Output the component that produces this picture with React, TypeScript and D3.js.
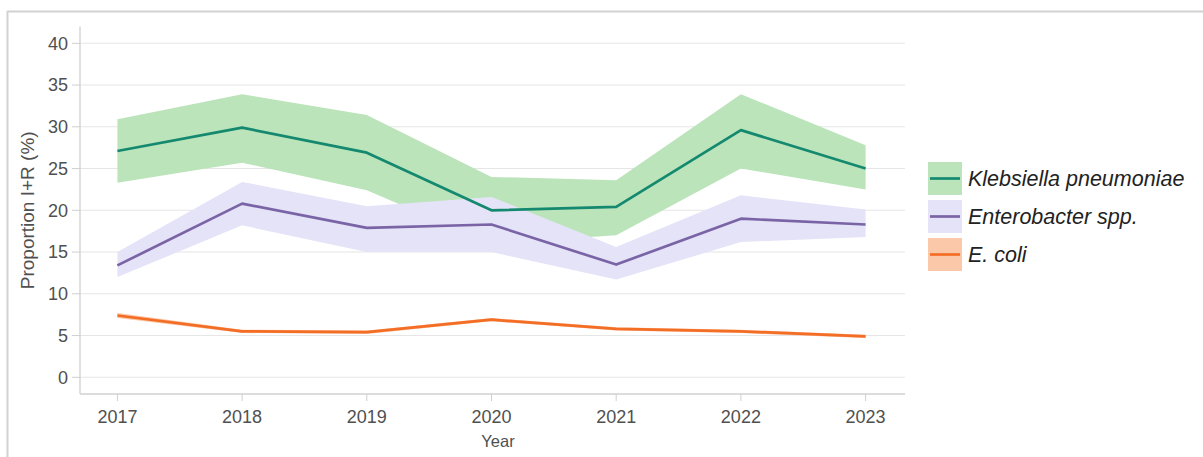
import React from "react";
import * as d3 from "d3";

const years = [2017, 2018, 2019, 2020, 2021, 2022, 2023];

const klebsiellaValue = [27.1, 29.9, 26.9, 20.0, 20.4, 29.6, 25.0];
const klebsiellaLower = [23.3, 25.7, 22.4, 16.0, 17.0, 25.0, 22.5];
const klebsiellaUpper = [30.9, 33.9, 31.4, 24.0, 23.6, 33.9, 27.8];

const enterobacterValue = [13.4, 20.8, 17.9, 18.3, 13.5, 19.0, 18.3];
const enterobacterLower = [12.0, 18.2, 15.0, 15.0, 11.7, 16.2, 16.8];
const enterobacterUpper = [15.0, 23.4, 20.5, 21.6, 15.6, 21.8, 20.1];

const ecoliValue = [7.4, 5.5, 5.4, 6.9, 5.8, 5.5, 4.9];
const ecoliLower = [7.1, 5.3, 5.2, 6.7, 5.6, 5.3, 4.7];
const ecoliUpper = [7.7, 5.7, 5.6, 7.1, 6.0, 5.7, 5.1];

const yTicks = [0, 5, 10, 15, 20, 25, 30, 35, 40];

const seriesNames = ["Klebsiella pneumoniae", "Enterobacter spp.", "E. coli"];
const lineColors = ["#14896f", "#7a64a6", "#f36d25"];
const bandColors = ["#bbe4ba", "#e4e3f8", "#fbc8a9"];

const W = 1203;
const H = 457;
const FONT = "'Liberation Sans', Arial, sans-serif";

export default function App() {
  const x = d3.scaleLinear().domain([2016.7, 2023.3]).range([80, 903]);
  const y = d3.scaleLinear().domain([-2, 42]).range([394, 26.6]);

  const series = [
    { v: klebsiellaValue, lo: klebsiellaLower, hi: klebsiellaUpper },
    { v: enterobacterValue, lo: enterobacterLower, hi: enterobacterUpper },
    { v: ecoliValue, lo: ecoliLower, hi: ecoliUpper },
  ];

  const line = d3
    .line<number>()
    .x((_, i) => x(years[i]))
    .y((d) => y(d));

  const area = (lo: number[], hi: number[]) =>
    d3
      .area<number>()
      .x((_, i) => x(years[i]))
      .y0((_, i) => y(lo[i]))
      .y1((_, i) => y(hi[i]))(years.map((_, i) => i) as any);

  const [x0, x1] = x.range();
  const [yb, yt] = y.range();

  return (
    <svg
      width={W}
      height={H}
      style={{ position: "absolute", left: 0, top: 0, background: "#fff" }}
      fontFamily={FONT}
    >
      {/* outer frame */}
      <line x1={7} y1={11.5} x2={W} y2={11.5} stroke="#d2d2d2" strokeWidth={2} />
      <line x1={7.5} y1={11} x2={7.5} y2={H} stroke="#d2d2d2" strokeWidth={2} />

      {/* gridlines */}
      {yTicks.map((t) => (
        <line key={"g" + t} x1={x0} x2={x1 + 2} y1={y(t)} y2={y(t)} stroke="#e6e6e6" strokeWidth={1.1} />
      ))}

      {/* bands */}
      {series.map((s, i) => (
        <path key={"b" + i} d={area(s.lo, s.hi) || ""} fill={bandColors[i]} />
      ))}

      {/* lines */}
      {series.map((s, i) => (
        <path
          key={"l" + i}
          d={line(s.v) || ""}
          fill="none"
          stroke={lineColors[i]}
          strokeWidth={2.7}
          strokeLinejoin="round"
        />
      ))}

      {/* axes */}
      <line x1={x0} y1={yb} x2={x0} y2={yt} stroke="#d0d0d0" strokeWidth={1.3} />
      <line x1={x0} y1={yb} x2={x1 + 2} y2={yb} stroke="#d0d0d0" strokeWidth={1.3} />

      {yTicks.map((t) => (
        <g key={"yt" + t}>
          <line x1={72} x2={x0} y1={y(t)} y2={y(t)} stroke="#cfcfcf" strokeWidth={1} />
          <text x={68} y={y(t)} dy="0.35em" textAnchor="end" fontSize={18} fill="#505050">
            {t}
          </text>
        </g>
      ))}

      {years.map((yr) => (
        <g key={"xt" + yr}>
          <line x1={x(yr)} x2={x(yr)} y1={yb} y2={yb + 7} stroke="#cfcfcf" strokeWidth={1} />
          <text x={x(yr)} y={422.5} textAnchor="middle" fontSize={18} fill="#505050">
            {yr}
          </text>
        </g>
      ))}

      <text x={498} y={447} textAnchor="middle" fontSize={16.5} fill="#505050">
        Year
      </text>
      <text
        transform={`translate(34, ${(yb + yt) / 2}) rotate(-90)`}
        textAnchor="middle"
        fontSize={19}
        fill="#505050"
      >
        Proportion I+R (%)
      </text>

      {/* legend */}
      {seriesNames.map((name, i) => {
        const top = 162 + i * 38;
        return (
          <g key={"lg" + i}>
            <rect x={928} y={top} width={34} height={33} fill={bandColors[i]} />
            <line x1={930} x2={960} y1={top + 16.5} y2={top + 16.5} stroke={lineColors[i]} strokeWidth={2.7} />
            <text x={968} y={top + 16.5} dy="0.35em" fontSize={21.5} fontStyle="italic" fill="#222">
              {name}
            </text>
          </g>
        );
      })}
    </svg>
  );
}
